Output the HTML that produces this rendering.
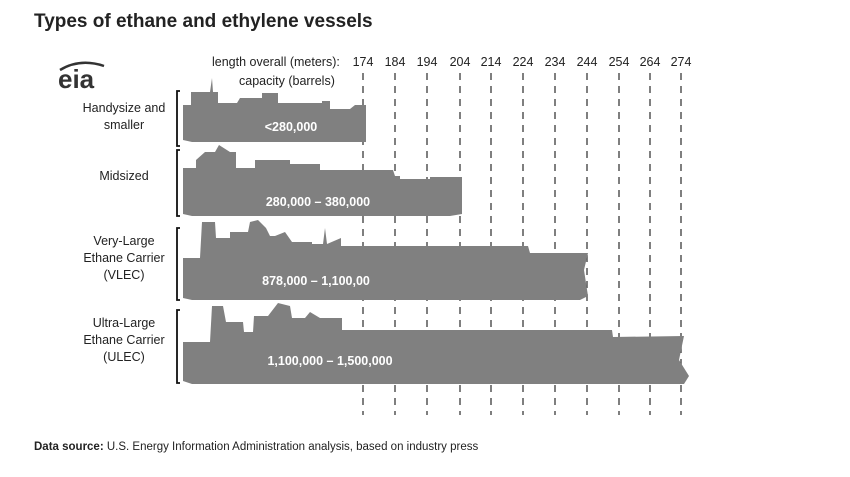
<!DOCTYPE html>
<html><head><meta charset="utf-8"><style>
body{margin:0;background:#fff;width:850px;height:472px;overflow:hidden;font-family:"Liberation Sans",Arial,sans-serif}
</style></head><body>
<svg width="850" height="472" xmlns="http://www.w3.org/2000/svg" font-family="Liberation Sans, Arial, sans-serif">
<text x="34" y="27" font-size="19" font-weight="bold" fill="#222">Types of ethane and ethylene vessels</text>
<text x="58" y="88" font-size="26" fill="#333" font-weight="bold">eia</text>
<path d="M60 70 Q80 58 104 66" stroke="#333" stroke-width="2.5" fill="none"/>
<text x="212" y="66" font-size="12.5" fill="#222">length overall (meters):</text>
<text x="239" y="85" font-size="12.5" fill="#222">capacity (barrels)</text>
<g font-size="12.5" fill="#222" text-anchor="middle">
<text x="363" y="66">174</text><text x="395" y="66">184</text><text x="427" y="66">194</text><text x="460" y="66">204</text><text x="491" y="66">214</text><text x="523" y="66">224</text><text x="555" y="66">234</text><text x="587" y="66">244</text><text x="619" y="66">254</text><text x="650" y="66">264</text><text x="681" y="66">274</text>
</g>
<g stroke="#555" stroke-width="1.5" stroke-dasharray="7,6">
<line x1="363" y1="73" x2="363" y2="415"/><line x1="395" y1="73" x2="395" y2="415"/><line x1="427" y1="73" x2="427" y2="415"/><line x1="460" y1="73" x2="460" y2="415"/><line x1="491" y1="73" x2="491" y2="415"/><line x1="523" y1="73" x2="523" y2="415"/><line x1="555" y1="73" x2="555" y2="415"/><line x1="587" y1="73" x2="587" y2="415"/><line x1="619" y1="73" x2="619" y2="415"/><line x1="650" y1="73" x2="650" y2="415"/><line x1="681" y1="73" x2="681" y2="415"/>
</g>
<g fill="#808080">
<path d="M183 140 L183 105 L191 105 L191 92 L210 92 L212 78 L213 92 L218 92 L218 103 L237 103 L240 98 L262 98 L262 93 L278 93 L278 103 L322 103 L322 101 L330 101 L330 109 L350 109 L355 105 L366 105 L366 142 L192 142 Z"/>
<path d="M183 214 L183 168 L196 168 L196 160 L205 152 L215 152 L219 145 L230 152 L236 152 L236 168 L255 168 L255 160 L290 160 L290 164 L320 164 L320 170 L393 170 L395 176 L400 176 L400 179 L430 179 L430 177 L462 177 L462 214 L450 216 L192 216 Z"/>
<path d="M183 298 L183 258 L200 258 L202 222 L215 222 L216 238 L230 238 L230 232 L248 232 L250 222 L258 220 L266 228 L270 236 L275 236 L285 232 L292 242 L312 242 L312 244 L323 244 L325 228 L327 244 L341 238 L341 246 L528 246 L530 253 L588 253 L584 270 L588 296 L580 300 L192 300 Z"/>
<path d="M183 381 L183 342 L210 342 L212 306 L223 306 L226 322 L243 322 L244 332 L253 332 L254 316 L268 316 L278 303 L290 306 L292 318 L305 318 L310 312 L320 318 L342 318 L342 330 L612 330 L613 337 L684 336 L679 360 L689 376 L684 384 L192 384 Z"/>
</g>
<g fill="#fff" font-size="12.5" font-weight="bold" text-anchor="middle">
<text x="291" y="131">&lt;280,000</text>
<text x="318" y="206">280,000 – 380,000</text>
<text x="316" y="285">878,000 – 1,100,00</text>
<text x="330" y="365">1,100,000 – 1,500,000</text>
</g>
<g stroke="#111" stroke-width="1.8" fill="none">
<path d="M180 91 L177 91 L177 146 L180 146"/>
<path d="M180 150 L177 150 L177 216 L180 216"/>
<path d="M180 228 L177 228 L177 300 L180 300"/>
<path d="M180 310 L177 310 L177 383 L180 383"/>
</g>
<g font-size="12.5" fill="#222" text-anchor="middle">
<text x="124" y="112">Handysize and</text><text x="124" y="129">smaller</text>
<text x="124" y="180">Midsized</text>
<text x="124" y="245">Very-Large</text><text x="124" y="262">Ethane Carrier</text><text x="124" y="279">(VLEC)</text>
<text x="124" y="327">Ultra-Large</text><text x="124" y="344">Ethane Carrier</text><text x="124" y="361">(ULEC)</text>
</g>
<text x="34" y="450" font-size="11.5" fill="#222"><tspan font-weight="bold">Data source:</tspan> U.S. Energy Information Administration analysis, based on industry press</text>
</svg>
</body></html>
